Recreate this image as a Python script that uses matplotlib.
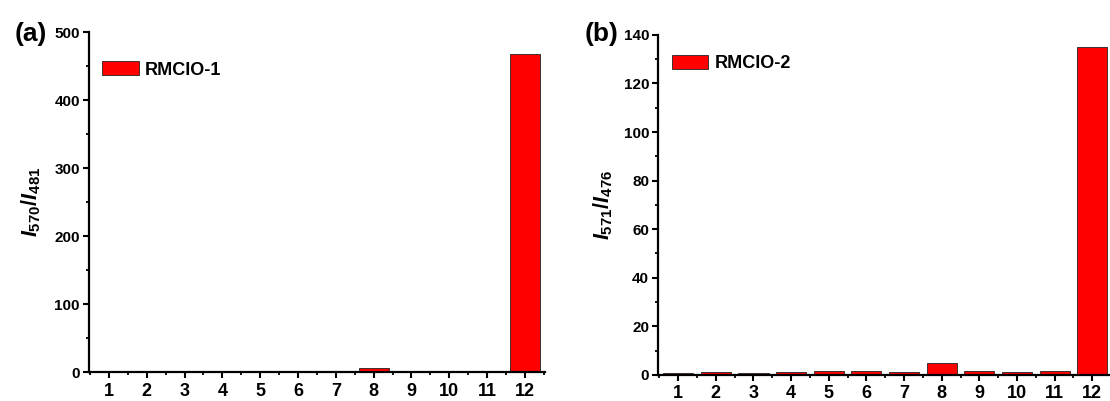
import numpy as np
import matplotlib
matplotlib.use("Agg")
import matplotlib.pyplot as plt
from matplotlib.ticker import MultipleLocator, FixedLocator

plt.rcParams['font.family'] = ['Liberation Sans', 'DejaVu Sans']
plt.rcParams['font.weight'] = 'bold'
plt.rcParams['mathtext.fontset'] = 'custom'
plt.rcParams['mathtext.rm'] = 'Liberation Sans:bold'
plt.rcParams['mathtext.it'] = 'Liberation Sans:bold:italic'
plt.rcParams['mathtext.bf'] = 'Liberation Sans:bold'

# ---- data ----
categories = list(range(1, 13))
rmcio1 = [0.8, 1.8, 0.8, 0.8, 0.9, 1.8, 1.6, 6.0, 1.7, 0.9, 1.7, 469]
rmcio2 = [0.9, 1.35, 0.9, 1.35, 1.6, 1.8, 1.2, 4.9, 1.6, 1.35, 1.6, 135]

panels = [
    dict(vals=rmcio1, name="RMCIO-1", tag="(a)", ylabel=r"$I_{\rm 570}/I_{\rm 481}$",
         ylim=500, major=100, minor=50, rect=[0.080, 0.072, 0.411, 0.847],
         tagx=0.042, pad=8, legy=0.915),
    dict(vals=rmcio2, name="RMCIO-2", tag="(b)", ylabel=r"$I_{\rm 571}/I_{\rm 476}$",
         ylim=140, major=20, minor=10, rect=[0.593, 0.065, 0.409, 0.848],
         tagx=0.557, pad=6, legy=0.94),
]

fig = plt.figure(figsize=(11.10, 4.01), dpi=100)

for p in panels:
    ax = fig.add_axes(p["rect"])
    ax.bar(categories, p["vals"], width=0.8, color="#ff0000",
           edgecolor="#222222", linewidth=0.6, label=p["name"])
    ax.set_xlim(0.47, 12.53)
    ax.set_ylim(0, p["ylim"])
    ax.set_xticks(categories)
    ax.xaxis.set_minor_locator(FixedLocator(np.arange(0.5, 13, 1.0)))
    ax.yaxis.set_major_locator(MultipleLocator(p["major"]))
    ax.yaxis.set_minor_locator(MultipleLocator(p["minor"]))
    for s in ["top", "right"]:
        ax.spines[s].set_visible(False)
    for s in ["left", "bottom"]:
        ax.spines[s].set_linewidth(1.6)
    ax.tick_params(which="major", direction="out", length=4.5, width=1.5)
    ax.tick_params(which="minor", direction="out", length=2.5, width=1.3)
    ax.tick_params(axis="x", which="major", labelsize=13, pad=3)
    ax.tick_params(axis="y", which="major", labelsize=11, pad=2)
    for lab in ax.get_xticklabels() + ax.get_yticklabels():
        lab.set_fontweight("bold")
    ax.set_ylabel(p["ylabel"], fontsize=15.5, labelpad=p["pad"])
    ax.legend(loc="upper left", bbox_to_anchor=(0.03, p["legy"]), frameon=False,
              fontsize=13, handlelength=2.0, handleheight=0.8,
              handletextpad=0.35, borderaxespad=0, borderpad=0)
    fig.text(p["tagx"], 0.915, p["tag"], fontsize=19, fontweight="bold",
             ha="right", va="center")

fig.savefig("out.png", dpi=100)
